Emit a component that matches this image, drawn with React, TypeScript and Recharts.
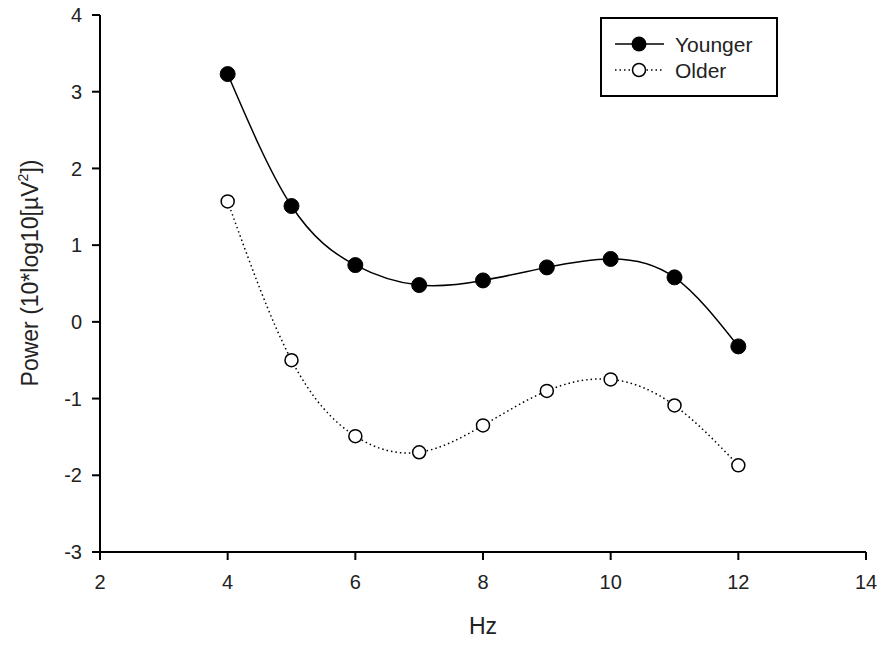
import { Line, LineChart, XAxis, YAxis } from 'recharts'

const hz = [4, 5, 6, 7, 8, 9, 10, 11, 12]
const younger = [3.23, 1.51, 0.74, 0.48, 0.54, 0.71, 0.82, 0.58, -0.32]
const older = [1.57, -0.5, -1.49, -1.7, -1.35, -0.9, -0.75, -1.09, -1.87]
const xTicks = [2, 4, 6, 8, 10, 12, 14]
const yTicks = [-3, -2, -1, 0, 1, 2, 3, 4]

const data = hz.map((h, i) => ({ hz: h, younger: younger[i], older: older[i] }))

const FONT = 'Arial, "Liberation Sans", sans-serif'

function YLabel(props: any) {
  const vb = props.viewBox || { x: 0, y: 0, width: 0, height: 0 }
  const cx = vb.x + 38
  const cy = 273
  return (
    <text
      x={cx}
      y={cy}
      transform={`rotate(-90 ${cx} ${cy})`}
      textAnchor="middle"
      fontSize={23}
      fontFamily={FONT}
      fill="#222"
    >
      Power (10*log10[µV
      <tspan fontSize={14} dy={-10}>2</tspan>
      <tspan dy={10}>])</tspan>
    </text>
  )
}

function XLabel(props: any) {
  const vb = props.viewBox || { x: 0, y: 0, width: 0, height: 0 }
  return (
    <text x={vb.x + vb.width / 2} y={634} textAnchor="middle" fontSize={23} fontFamily={FONT} fill="#222">
      Hz
    </text>
  )
}

function LegendBox() {
  return (
    <svg width={180} height={82} style={{ display: 'block' }}>
      <rect x={1} y={1} width={176} height={78} fill="#fff" stroke="#000" strokeWidth={2} />
      <line x1={15} y1={27} x2={64} y2={27} stroke="#000" strokeWidth={1.5} />
      <circle cx={39} cy={27} r={7.5} fill="#000" />
      <text x={75} y={35} fontSize={21} fontFamily={FONT} fill="#222">Younger</text>
      <line x1={15} y1={53} x2={64} y2={53} stroke="#000" strokeWidth={1.5} strokeDasharray="1.5 3" />
      <circle cx={39} cy={53} r={6.5} fill="#fff" stroke="#000" strokeWidth={1.5} />
      <text x={75} y={61} fontSize={21} fontFamily={FONT} fill="#222">Older</text>
    </svg>
  )
}

export default function App() {
  return (
    <div style={{ position: 'absolute', left: 0, top: 0, width: 884, height: 645, background: '#fff' }}>
      <LineChart width={884} height={645} data={data} margin={{ top: 15, right: 18, bottom: 0, left: 0 }}>
        <XAxis
          dataKey="hz"
          type="number"
          domain={[2, 14]}
          ticks={xTicks}
          height={93}
          tickSize={8}
          tickMargin={15}
          stroke="#000"
          strokeWidth={2}
          tick={{ fontSize: 20, fontFamily: FONT, fill: '#222' }}
          label={<XLabel />}
        />
        <YAxis
          type="number"
          domain={[-3, 4]}
          ticks={yTicks}
          width={100}
          tickSize={8}
          tickMargin={10}
          stroke="#000"
          strokeWidth={2}
          tick={{ fontSize: 20, fontFamily: FONT, fill: '#222' }}
          label={<YLabel />}
        />
        <Line
          type="natural"
          dataKey="younger"
          stroke="#000"
          strokeWidth={1.5}
          dot={{ r: 7.5, fill: '#000', stroke: '#000', strokeWidth: 1 }}
          isAnimationActive={false}
        />
        <Line
          type="natural"
          dataKey="older"
          stroke="#000"
          strokeWidth={1.5}
          strokeDasharray="1.5 3"
          dot={{ r: 6.5, fill: '#fff', stroke: '#000', strokeWidth: 1.5, strokeDasharray: '' }}
          isAnimationActive={false}
        />
      </LineChart>
      <div style={{ position: 'absolute', left: 600, top: 17 }}>
        <LegendBox />
      </div>
    </div>
  )
}
